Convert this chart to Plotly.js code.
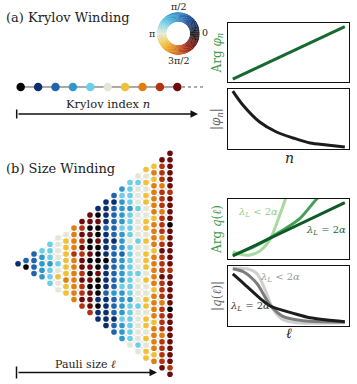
<!DOCTYPE html>
<html>
<head>
<meta charset="utf-8">
<script src="https://cdn.plot.ly/plotly-3.0.1.min.js"></script>
<style>
  body { margin: 0; background: #fff; }
  #plot { width: 357px; height: 384px; }
</style>
</head>
<body>
<div id="plot"></div>
<script>
// cyclic phase colours: code 0..9 = phase 0 .. 2pi in steps of 36 deg
let phaseColors = ["#050505", "#0b2f6e", "#1f64ad", "#2f98cc", "#6ccfe6",
                   "#e3e8d6", "#f0c136", "#e07e12", "#b4320f", "#6c0b0a"]

// (a) Krylov chain: index n and its phase code
let krylovIndex = [0, 1, 2, 3, 4, 5, 6, 7, 8, 9]
let krylovCodes = [0, 1, 2, 3, 4, 5, 6, 7, 8, 9]

// (b) size triangle: dots per Pauli size column and phase codes top -> bottom
let triCounts = [1, 2, 4, 5, 7, 9, 10, 12, 14, 16, 18, 20, 22, 24, 26, 28, 30, 31, 33, 35]
let triCodes = [
    "1",
    "20",
    "2222",
    "43333",
    "4443444",
    "555545655",
    "5666666766",
    "777787777777",
    "98989899898898",
    "9909009090909998",
    "109009000090001011",
    "11112111101111211111",
    "2122222122222223222122",
    "343333433323333433334333",
    "44443444454444444434444445",
    "5455545555455554555545555545",
    "656566556656566656556656656566",
    "6767777767777677777677776777767",
    "988878887888789888988878888788889",
    "99999989999099999989999909999999989"
]

// right panels (a): Arg phi_n and |phi_n| against n
let argN = [0, 10]
let argPhi = [0.046, 0.942]
let absN = [0, 0.9, 2.4, 3.9, 5.4, 6.9, 8.4, 10]
let absPhi = [0.97, 0.737, 0.452, 0.285, 0.184, 0.1, 0.067, 0.034]

// right panels (b): Arg q(l) and |q(l)| against l
let argDarkL = [0, 10]
let argDark = [0.055, 0.94]
let argMidL = [0, 2, 4, 6, 7.5, 8.2]
let argMid = [0.07, 0.22, 0.43, 0.68, 1.0, 1.1]
let argLightL = [0, 0.65, 1.54, 2.43, 3.33, 3.93, 4.46, 4.9]
let argLight = [0.127, 0.083, 0.07, 0.14, 0.33, 0.6, 0.87, 1.1]

let absDarkL = [0, 0.95, 2.43, 3.33, 5.41, 6.9, 10]
let absDark = [0.867, 0.711, 0.461, 0.333, 0.211, 0.138, 0.072]
let absMidL = [0, 0.95, 2.14, 3.33, 4.52, 6.3, 10]
let absMid = [0.955, 0.905, 0.712, 0.35, 0.155, 0.088, 0.067]
let absLightL = [0, 1.25, 2.14, 2.9, 3.63, 4.52, 5.7, 10]
let absLight = [0.962, 0.955, 0.878, 0.6, 0.267, 0.1, 0.055, 0.055]

// page coords helpers (pixels -> paper)
const W = 357, H = 384
const px = x => x / W
const py = y => 1 - y / H

const SERIF = "DejaVu Serif"

// --- triangle dots and the grey lattice behind them
let tx = [], ty = [], tc = []
let cols = []
for (let c = 0; c < triCounts.length; c++) {
    let n = triCounts[c]
    let codes = triCodes[c]
    let ys = []
    for (let j = 0; j < n; j++) {
        let y = (n - 1) / 2 - j
        let ch = codes[Math.min(j, codes.length - 1)]
        tx.push(c + 1)
        ty.push(y)
        tc.push(phaseColors[+ch])
        ys.push(y)
    }
    cols.push(ys)
}
let lx = [], ly = []
for (let c = 0; c < cols.length - 1; c++) {
    for (let y0 of cols[c]) {
        for (let y1 of cols[c + 1]) {
            if (Math.abs(y1 - y0) <= 1.01 && y1 != y0) {
                lx.push(c + 1, c + 2, null)
                ly.push(y0, y1, null)
            }
        }
    }
}

// --- colour wheel bars
let wheelTheta = [], wheelVal = [], wheelR = []
for (let k = 0; k < 120; k++) {
    wheelTheta.push(k * 3 + 1.5)
    wheelVal.push((k * 3 + 1.5) / 360)
    wheelR.push(1)
}
let wheelScale = phaseColors.map((c, i) => [i / 10, c])
wheelScale.push([1, phaseColors[0]])

let data = [
    // Krylov chain
    {x: [krylovIndex[0], krylovIndex[krylovIndex.length - 1]], y: [0, 0], xaxis: "x", yaxis: "y",
     mode: "lines", line: {color: "#555", width: 1}, hoverinfo: "skip"},
    {x: [9.27, 10.5], y: [0, 0], xaxis: "x", yaxis: "y",
     mode: "lines", line: {color: "#555", width: 1, dash: "dot"}, hoverinfo: "skip"},
    {x: krylovIndex, y: krylovIndex.map(() => 0), xaxis: "x", yaxis: "y", mode: "markers",
     marker: {size: 8.5, color: krylovCodes.map(k => phaseColors[k])}},

    // triangle
    {x: lx, y: ly, xaxis: "x2", yaxis: "y2", mode: "lines",
     line: {color: "#dddddd", width: 0.7}, hoverinfo: "skip"},
    {x: tx, y: ty, xaxis: "x2", yaxis: "y2", mode: "markers",
     marker: {size: 5.6, color: tc}},

    // colour wheel
    {type: "barpolar", r: wheelR, theta: wheelTheta, width: 3.3, subplot: "polar",
     marker: {color: wheelVal, colorscale: wheelScale, cmin: 0, cmax: 1, line: {width: 0}},
     hoverinfo: "skip"},

    // (a) right panels
    {x: argN, y: argPhi, xaxis: "x3", yaxis: "y3", mode: "lines",
     line: {color: "#17692f", width: 3}},
    {x: absN, y: absPhi, xaxis: "x4", yaxis: "y4", mode: "lines",
     line: {color: "#1c1c1c", width: 3, shape: "spline", smoothing: 0.8}},

    // (b) right panels
    {x: argLightL, y: argLight, xaxis: "x5", yaxis: "y5", mode: "lines",
     line: {color: "#a8da9f", width: 3, shape: "spline", smoothing: 0.8}},
    {x: argMidL, y: argMid, xaxis: "x5", yaxis: "y5", mode: "lines",
     line: {color: "#44a055", width: 3, shape: "spline", smoothing: 0.8}},
    {x: argDarkL, y: argDark, xaxis: "x5", yaxis: "y5", mode: "lines",
     line: {color: "#0f5a27", width: 3}},

    {x: absLightL, y: absLight, xaxis: "x6", yaxis: "y6", mode: "lines",
     line: {color: "#cfcfcf", width: 3, shape: "spline", smoothing: 0.8}},
    {x: absMidL, y: absMid, xaxis: "x6", yaxis: "y6", mode: "lines",
     line: {color: "#7c7c7c", width: 3, shape: "spline", smoothing: 0.8}},
    {x: absDarkL, y: absDark, xaxis: "x6", yaxis: "y6", mode: "lines",
     line: {color: "#1c1c1c", width: 3, shape: "spline", smoothing: 0.8}}
]

let hidden = {visible: false, fixedrange: true}
let boxAxis = {showline: true, mirror: true, linecolor: "#111", linewidth: 1.3,
               ticks: "", showticklabels: false, showgrid: false, zeroline: false}
let boxX = [0.6395, 0.9784]

// text helper: centred label in page pixels
function label(text, x, y, size, color, angle) {
    return {text: text, x: px(x), y: py(y), xref: "paper", yref: "paper",
            xanchor: "center", yanchor: "middle", showarrow: false,
            textangle: angle || 0,
            font: {family: SERIF, size: size, color: color || "#222"}}
}

let layout = {
    width: W, height: H,
    margin: {l: 0, r: 0, t: 0, b: 0},
    paper_bgcolor: "#fff",
    plot_bgcolor: "rgba(0,0,0,0)",
    showlegend: false,
    font: {family: SERIF, color: "#222"},

    xaxis: Object.assign({domain: [0, 0.6], range: [-1.19, 11.12], anchor: "y"}, hidden),
    yaxis: Object.assign({domain: [0.7396, 0.8073], range: [-1, 1], anchor: "x"}, hidden),
    xaxis2: Object.assign({domain: [0, 0.6], range: [-1.25, 25.525], anchor: "y2"}, hidden),
    yaxis2: Object.assign({domain: [0, 0.6354], range: [-18.51, 19.03], anchor: "x2"}, hidden),

    xaxis3: Object.assign({domain: boxX, range: [-0.4, 10.4], anchor: "y3"}, boxAxis),
    yaxis3: Object.assign({domain: [0.7872, 0.9393], range: [0, 1], anchor: "x3"}, boxAxis),
    xaxis4: Object.assign({domain: boxX, range: [-0.4, 10.4], anchor: "y4"}, boxAxis),
    yaxis4: Object.assign({domain: [0.6120, 0.7674], range: [0, 1], anchor: "x4"}, boxAxis),
    xaxis5: Object.assign({domain: boxX, range: [-0.4, 10.4], anchor: "y5"}, boxAxis),
    yaxis5: Object.assign({domain: [0.3247, 0.4818], range: [0, 1], anchor: "x5"}, boxAxis),
    xaxis6: Object.assign({domain: boxX, range: [-0.4, 10.4], anchor: "y6"}, boxAxis),
    yaxis6: Object.assign({domain: [0.1510, 0.3073], range: [0, 1], anchor: "x6"}, boxAxis),

    polar: {
        domain: {x: [px(156.8), px(199.8)], y: [py(55), py(12)]},
        hole: 0.54,
        bgcolor: "rgba(0,0,0,0)",
        radialaxis: {visible: false, range: [0, 1]},
        angularaxis: {visible: false, rotation: 0, direction: "counterclockwise"}
    },

    shapes: [
        // tail bars of the two arrows
        {type: "line", xref: "paper", yref: "paper", x0: px(16.7), x1: px(16.7), y0: py(109.5), y1: py(118.5),
         line: {color: "#111", width: 1.5}},
        {type: "line", xref: "paper", yref: "paper", x0: px(16.5), x1: px(16.5), y0: py(366.5), y1: py(378.5),
         line: {color: "#111", width: 1.5}}
    ],

    annotations: [
        Object.assign(label("(a) Krylov Winding", 4, 17, 13), {xanchor: "left"}),
        Object.assign(label("(b) Size Winding", 4, 168, 13), {xanchor: "left"}),

        // wheel labels
        label("π/2", 178.5, 6, 9.5),
        label("0", 205, 32.5, 9.5),
        label("π", 151.5, 33.5, 9.5),
        label("3π/2", 178.5, 60, 9.5),

        // arrows
        {text: "", x: px(198), y: py(114), xref: "paper", yref: "paper", showarrow: true,
         ax: -181, ay: 0, arrowhead: 2, arrowsize: 1, arrowwidth: 1.5, arrowcolor: "#111"},
        label("Krylov index <i>n</i>", 107.5, 104, 11.5),
        {text: "", x: px(157), y: py(372.5), xref: "paper", yref: "paper", showarrow: true,
         ax: -140, ay: 0, arrowhead: 2, arrowsize: 1, arrowwidth: 1.5, arrowcolor: "#111"},
        label("Pauli size <i>ℓ</i>", 85, 364, 11),

        // panel labels
        label("Arg <i>φ</i><sub><i>n</i></sub>", 217, 52.5, 12, "#3d9a4c", -90),
        label("|<i>φ</i><sub><i>n</i></sub>|", 217, 119, 12, "#666", -90),
        label("<i>n</i>", 289, 158, 14),
        label("Arg <i>q</i>(<i>ℓ</i>)", 217, 229, 12, "#3d9a4c", -90),
        label("|<i>q</i>(<i>ℓ</i>)|", 217, 296, 12, "#666", -90),
        label("<i>ℓ</i>", 289, 333, 14),

        label("<i>λ</i><sub><i>L</i></sub> &lt; 2<i>α</i>", 258, 212.5, 10, "#8fcf86"),
        label("<i>λ</i><sub><i>L</i></sub> = 2<i>α</i>", 326, 230, 10, "#17692f"),
        label("<i>λ</i><sub><i>L</i></sub> &lt; 2<i>α</i>", 280, 277, 10, "#9a9a9a"),
        label("<i>λ</i><sub><i>L</i></sub> = 2<i>α</i>", 250.5, 306.5, 10, "#333")
    ]
}

Plotly.newPlot("plot", data, layout, {displayModeBar: false})
</script>
</body>
</html>
